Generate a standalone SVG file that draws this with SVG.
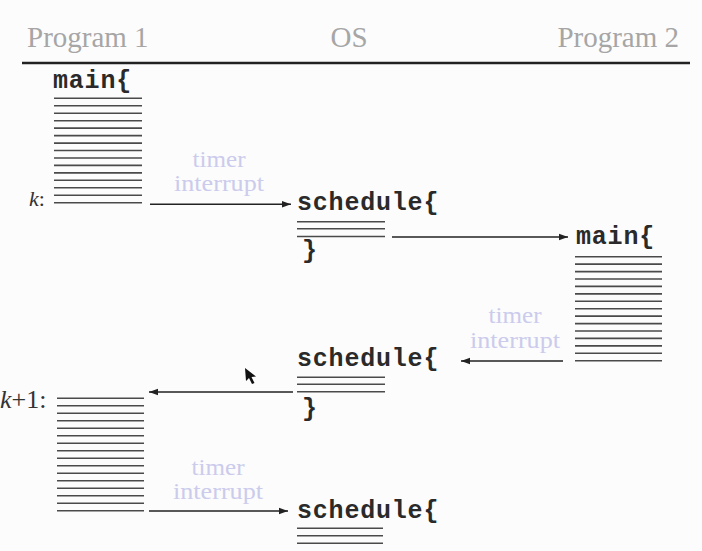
<svg xmlns="http://www.w3.org/2000/svg" width="702" height="551" viewBox="0 0 702 551">
  <style>
    .hdr { font-family: "Liberation Serif", "Times New Roman", serif; font-size: 29px; fill: #a6a6a6; }
    .code { font-family: "Liberation Mono", "Courier New", monospace; font-size: 25px; font-weight: bold; fill: #2a2a2a; letter-spacing: 0.8px; }
    .ti { font-family: "Liberation Serif", "Times New Roman", serif; font-size: 24px; fill: #cbcbec; text-anchor: middle; }
    .lbl { font-family: "Liberation Serif", "Times New Roman", serif; fill: #333; }
    .code-lines line { stroke: #4a4a4a; stroke-width: 1.6; }
    .conn line { stroke: #222; stroke-width: 1.6; }
  </style>
  <defs>
    <marker id="ah" markerUnits="userSpaceOnUse" markerWidth="10" markerHeight="8" refX="9" refY="4" orient="auto">
      <path d="M0,0.8 L9,4 L0,7.2 Z" fill="#222"/>
    </marker>
  </defs>
  <rect x="0" y="0" width="702" height="551" fill="#fcfcfc"/>

  <g id="header">
    <text class="hdr" x="27" y="47">Program 1</text>
    <text class="hdr" x="349" y="47" text-anchor="middle">OS</text>
    <text class="hdr" x="679" y="47" text-anchor="end">Program 2</text>
    <line x1="22" y1="63" x2="690" y2="63" stroke="#222" stroke-width="2.4"/>
  </g>

  <g id="p1-main">
    <text class="code" x="53" y="88">main{</text>
    <g class="code-lines">
      <line x1="54" y1="98.3" x2="142" y2="98.3"/>
      <line x1="54" y1="105.8" x2="142" y2="105.8"/>
      <line x1="54" y1="113.2" x2="142" y2="113.2"/>
      <line x1="54" y1="120.7" x2="142" y2="120.7"/>
      <line x1="54" y1="128.1" x2="142" y2="128.1"/>
      <line x1="54" y1="135.6" x2="142" y2="135.6"/>
      <line x1="54" y1="143.1" x2="142" y2="143.1"/>
      <line x1="54" y1="150.5" x2="142" y2="150.5"/>
      <line x1="54" y1="158.0" x2="142" y2="158.0"/>
      <line x1="54" y1="165.4" x2="142" y2="165.4"/>
      <line x1="54" y1="172.9" x2="142" y2="172.9"/>
      <line x1="54" y1="180.3" x2="142" y2="180.3"/>
      <line x1="54" y1="187.8" x2="142" y2="187.8"/>
      <line x1="54" y1="195.2" x2="142" y2="195.2"/>
      <line x1="54" y1="202.7" x2="142" y2="202.7"/>
    </g>
    <text class="lbl" x="29" y="206" font-size="22"><tspan font-style="italic">k</tspan>:</text>
  </g>

  <g id="os-schedule-1">
    <text class="code" x="297" y="210">schedule{</text>
    <g class="code-lines">
      <line x1="297" y1="221.7" x2="385" y2="221.7"/>
      <line x1="297" y1="228.7" x2="385" y2="228.7"/>
      <line x1="297" y1="236.5" x2="385" y2="236.5"/>
    </g>
    <text class="code" x="302" y="258">}</text>
  </g>

  <g id="p2-main">
    <text class="code" x="576" y="244">main{</text>
    <g class="code-lines">
      <line x1="575" y1="256.7" x2="662" y2="256.7"/>
      <line x1="575" y1="264.1" x2="662" y2="264.1"/>
      <line x1="575" y1="271.6" x2="662" y2="271.6"/>
      <line x1="575" y1="279.0" x2="662" y2="279.0"/>
      <line x1="575" y1="286.4" x2="662" y2="286.4"/>
      <line x1="575" y1="293.9" x2="662" y2="293.9"/>
      <line x1="575" y1="301.3" x2="662" y2="301.3"/>
      <line x1="575" y1="308.7" x2="662" y2="308.7"/>
      <line x1="575" y1="316.1" x2="662" y2="316.1"/>
      <line x1="575" y1="323.6" x2="662" y2="323.6"/>
      <line x1="575" y1="331.0" x2="662" y2="331.0"/>
      <line x1="575" y1="338.4" x2="662" y2="338.4"/>
      <line x1="575" y1="345.9" x2="662" y2="345.9"/>
      <line x1="575" y1="353.3" x2="662" y2="353.3"/>
      <line x1="575" y1="360.7" x2="662" y2="360.7"/>
    </g>
  </g>

  <g id="os-schedule-2">
    <text class="code" x="297" y="366">schedule{</text>
    <g class="code-lines">
      <line x1="297" y1="377.3" x2="385" y2="377.3"/>
      <line x1="297" y1="384.3" x2="385" y2="384.3"/>
      <line x1="297" y1="391.7" x2="385" y2="391.7"/>
    </g>
    <text class="code" x="302" y="416">}</text>
  </g>

  <g id="p1-resume">
    <text class="lbl" x="0" y="408" font-size="26"><tspan font-style="italic">k</tspan>+1:</text>
    <g class="code-lines">
      <line x1="57" y1="398.3" x2="144" y2="398.3"/>
      <line x1="57" y1="405.8" x2="144" y2="405.8"/>
      <line x1="57" y1="413.3" x2="144" y2="413.3"/>
      <line x1="57" y1="420.8" x2="144" y2="420.8"/>
      <line x1="57" y1="428.3" x2="144" y2="428.3"/>
      <line x1="57" y1="435.8" x2="144" y2="435.8"/>
      <line x1="57" y1="443.3" x2="144" y2="443.3"/>
      <line x1="57" y1="450.8" x2="144" y2="450.8"/>
      <line x1="57" y1="458.3" x2="144" y2="458.3"/>
      <line x1="57" y1="465.8" x2="144" y2="465.8"/>
      <line x1="57" y1="473.3" x2="144" y2="473.3"/>
      <line x1="57" y1="480.7" x2="144" y2="480.7"/>
      <line x1="57" y1="488.2" x2="144" y2="488.2"/>
      <line x1="57" y1="495.7" x2="144" y2="495.7"/>
      <line x1="57" y1="503.2" x2="144" y2="503.2"/>
      <line x1="57" y1="510.7" x2="144" y2="510.7"/>
    </g>
  </g>

  <g id="os-schedule-3">
    <text class="code" x="297" y="518">schedule{</text>
    <g class="code-lines">
      <line x1="297" y1="528.3" x2="383" y2="528.3"/>
      <line x1="297" y1="535.7" x2="383" y2="535.7"/>
      <line x1="297" y1="543.3" x2="383" y2="543.3"/>
    </g>
  </g>

  <g id="connectors" class="conn">
    <line x1="150" y1="204.3" x2="291" y2="204.3" marker-end="url(#ah)"/>
    <line x1="392" y1="237" x2="568" y2="237" marker-end="url(#ah)"/>
    <line x1="563" y1="361" x2="461" y2="361" marker-end="url(#ah)"/>
    <line x1="293" y1="392" x2="149" y2="392" marker-end="url(#ah)"/>
    <line x1="149" y1="511" x2="288" y2="511" marker-end="url(#ah)"/>
    <text class="ti" x="219" y="167" textLength="53" lengthAdjust="spacingAndGlyphs">timer</text>
    <text class="ti" x="219" y="191" textLength="90" lengthAdjust="spacingAndGlyphs">interrupt</text>
    <text class="ti" x="515" y="323" textLength="53" lengthAdjust="spacingAndGlyphs">timer</text>
    <text class="ti" x="515" y="348" textLength="90" lengthAdjust="spacingAndGlyphs">interrupt</text>
    <text class="ti" x="218" y="475" textLength="53" lengthAdjust="spacingAndGlyphs">timer</text>
    <text class="ti" x="218" y="499" textLength="90" lengthAdjust="spacingAndGlyphs">interrupt</text>
  </g>

  <polygon id="cursor" points="245,368 246,381 249,378 252,384 254.5,383 251.5,377 256,376.5" fill="#111"/>
</svg>
